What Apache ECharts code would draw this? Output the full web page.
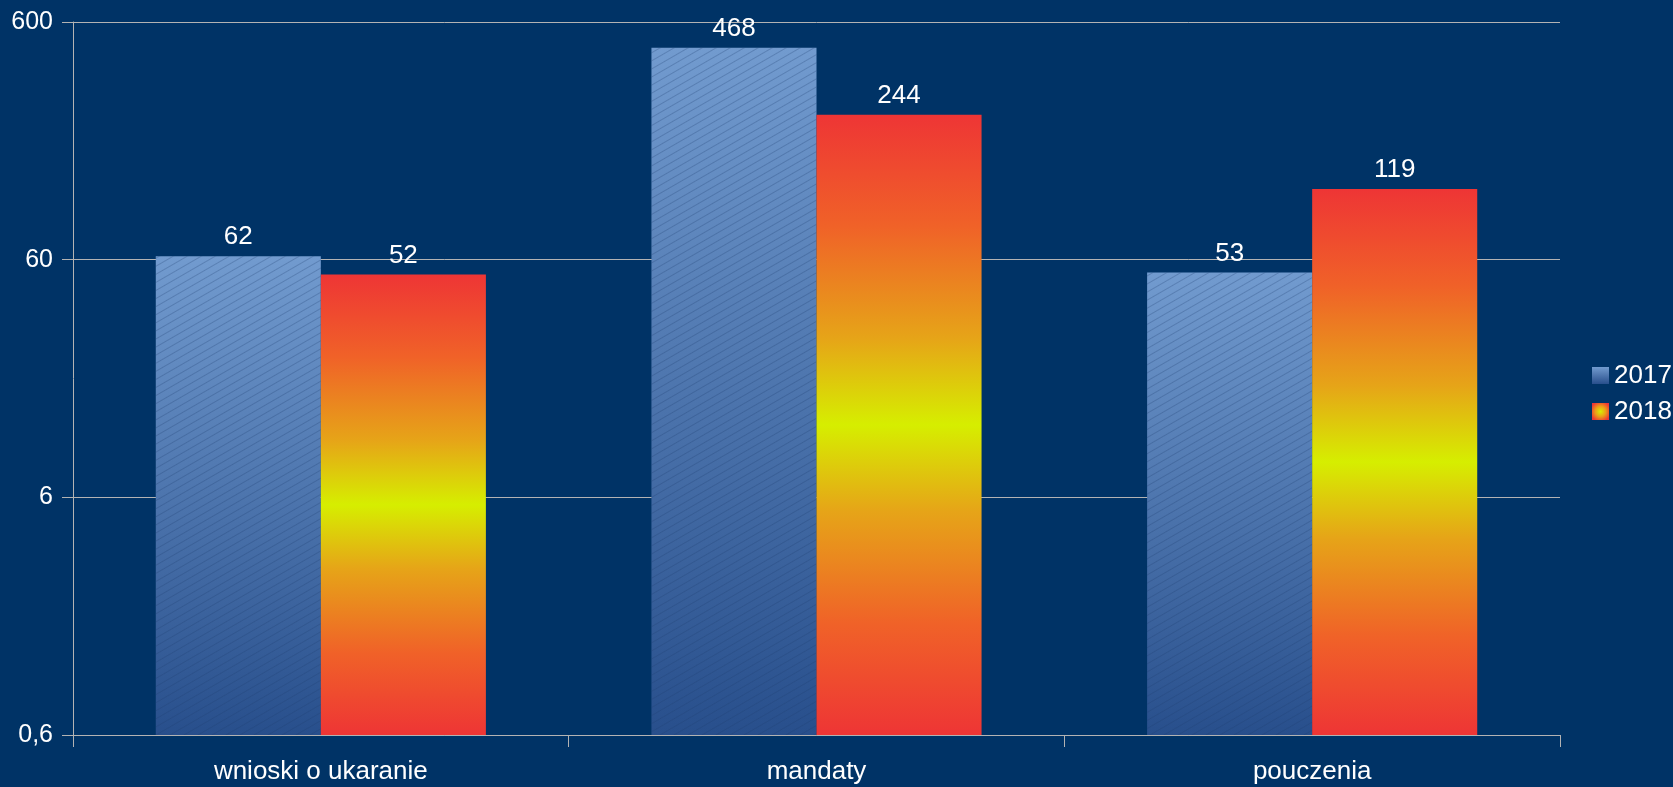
<!DOCTYPE html>
<html>
<head>
<meta charset="utf-8">
<script src="https://cdn.jsdelivr.net/npm/echarts@6/dist/echarts.min.js"></script>
<style>
html,body{margin:0;padding:0;background:#003366;}
#chart{width:1673px;height:787px;}
</style>
</head>
<body>
<div id="chart"></div>
<script>
const categories = ['wnioski o ukaranie', 'mandaty', 'pouczenia'];
const values2017 = [62, 468, 53];
const values2018 = [52, 244, 119];
const yTicks = [0.6, 6, 60, 600];

const FONT = '"Liberation Sans", Arial, sans-serif';
const GRID = '#b3b3b3';

const blueGrad = {
  type: 'linear', x: 0, y: 0, x2: 0, y2: 1,
  colorStops: [
    { offset: 0, color: '#729bcf' },
    { offset: 1, color: '#284f8c' }
  ]
};
const hotGrad = {
  type: 'linear', x: 0, y: 0, x2: 0, y2: 1,
  colorStops: [
    { offset: 0, color: '#ee3535' },
    { offset: 0.18, color: '#f06228' },
    { offset: 0.36, color: '#e6a418' },
    { offset: 0.5, color: '#d6ee00' },
    { offset: 0.64, color: '#e6a418' },
    { offset: 0.82, color: '#f06228' },
    { offset: 1, color: '#ee3535' }
  ]
};
const hotRadial = {
  type: 'radial', x: 0.5, y: 0.5, r: 0.6,
  colorStops: [
    { offset: 0, color: '#d6f000' },
    { offset: 0.5, color: '#eca018' },
    { offset: 1, color: '#ee3535' }
  ]
};
const noDecal = { symbol: 'rect', symbolSize: 1, color: 'rgba(0,0,0,0)' };

const labelStyle = {
  show: true, position: 'top', distance: 6,
  color: '#ffffff', fontSize: 26, fontFamily: FONT
};

const chart = echarts.init(document.getElementById('chart'));
chart.setOption({
  backgroundColor: '#003366',
  animation: false,
  aria: { enabled: true, decal: { show: true } },
  grid: { left: 73, right: 113, top: 22, bottom: 52, containLabel: false },
  legend: {
    orient: 'vertical', left: 1587, top: 'middle',
    itemWidth: 17, itemHeight: 17, itemGap: 10,
    icon: 'rect',
    textStyle: { color: '#ffffff', fontSize: 26, fontFamily: FONT, lineHeight: 26 },
    data: [
      { name: '2017', itemStyle: { color: blueGrad, decal: noDecal } },
      { name: '2018', itemStyle: { color: hotRadial, decal: noDecal } }
    ]
  },
  xAxis: {
    type: 'category',
    data: categories,
    axisLine: { show: true, lineStyle: { color: GRID, width: 1 } },
    axisTick: { show: true, length: 12, alignWithLabel: false, lineStyle: { color: GRID } },
    axisLabel: { color: '#ffffff', fontSize: 26, fontFamily: FONT, margin: 24 },
    splitLine: { show: false }
  },
  yAxis: {
    type: 'log', logBase: 10, min: 0.6, max: 600, startValue: 0.6,
    axisLine: { show: true, lineStyle: { color: GRID, width: 1 } },
    axisTick: { show: true, length: 11, inside: false, customValues: yTicks, lineStyle: { color: GRID } },
    axisLabel: {
      color: '#ffffff', fontSize: 25, fontFamily: FONT, margin: 20,
      customValues: yTicks,
      formatter: v => String(Math.round(v * 10) / 10).replace('.', ',')
    },
    splitLine: { show: true, lineStyle: { color: GRID, width: 1 } }
  },
  series: [
    {
      name: '2017', type: 'bar', data: values2017,
      barGap: '0%', barCategoryGap: '33.4%',
      itemStyle: {
        color: blueGrad,
        decal: {
          symbol: 'rect', symbolSize: 1, color: 'rgba(30,60,110,0.28)',
          dashArrayX: [1, 0], dashArrayY: [1, 6], rotation: -Math.PI / 6
        }
      },
      label: labelStyle
    },
    {
      name: '2018', type: 'bar', data: values2018,
      barGap: '0%', barCategoryGap: '33.4%',
      itemStyle: { color: hotGrad, decal: noDecal },
      label: labelStyle
    }
  ]
});
</script>
</body>
</html>
